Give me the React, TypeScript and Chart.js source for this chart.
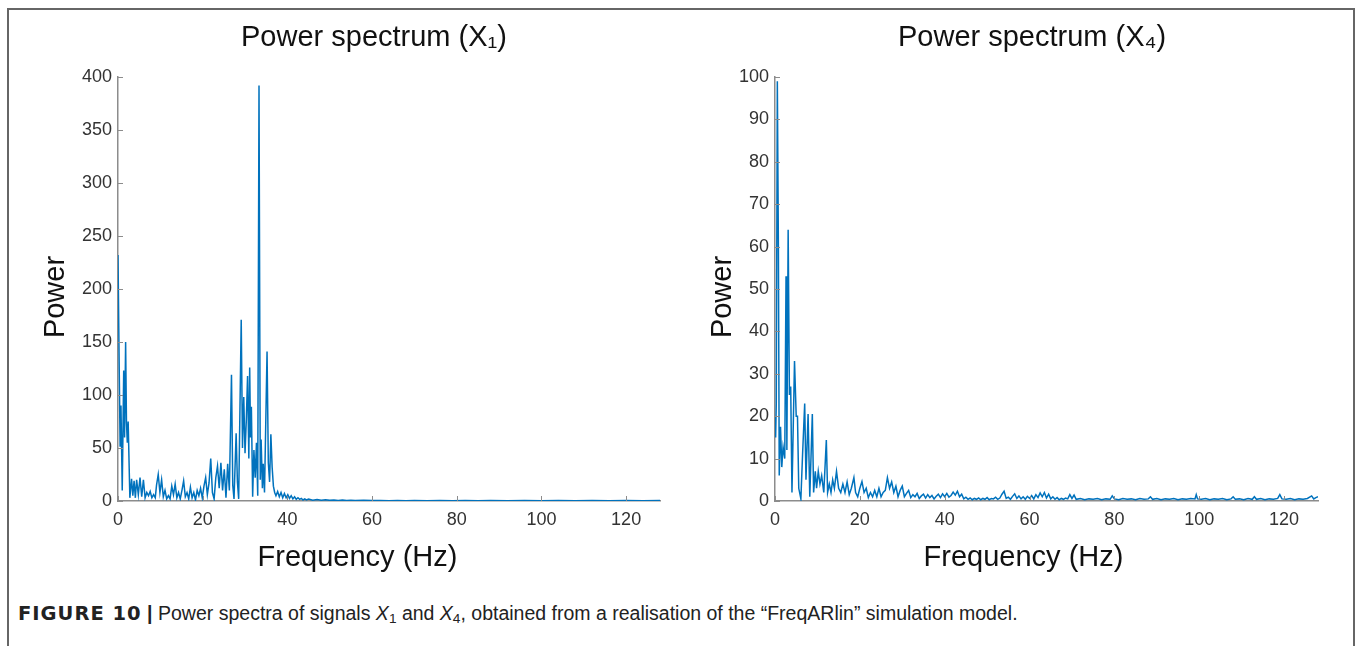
import React, { useEffect, useRef } from "react";
import { Chart, registerables } from "chart.js";

Chart.register(...registerables);

// ---------------- data ----------------
const FREQ_TICKS = [0, 20, 40, 60, 80, 100, 120];
const X1_POWER_TICKS = [0, 50, 100, 150, 200, 250, 300, 350, 400];
const X4_POWER_TICKS = [0, 10, 20, 30, 40, 50, 60, 70, 80, 90, 100];
const TITLE_X1 = "Power spectrum (X\u2081)";
const TITLE_X4 = "Power spectrum (X\u2084)";
const X_LABEL = "Frequency (Hz)";
const Y_LABEL = "Power";

// [frequency (Hz), power]
const X1_SPECTRUM: [number, number][] = [
  [0, 232], [0.3, 120], [0.5, 52], [0.7, 90], [1.0, 10], [1.35, 123], [1.55, 60], [1.8, 150], [2.0, 74], [2.2, 55],
  [2.4, 75], [2.8, 3], [3.2, 21], [3.5, 5], [3.8, 19], [4.1, 3], [4.4, 20], [4.8, 6], [5.2, 22], [5.6, 4],
  [6.0, 20], [6.4, 3], [6.8, 8], [7.2, 5], [7.6, 9], [8.0, 3], [8.4, 6], [8.8, 3], [9.1, 15], [9.5, 25],
  [9.9, 8], [10.3, 20], [10.7, 4], [11.1, 10], [11.5, 2], [11.9, 5], [12.3, 2], [12.7, 14], [13.1, 6], [13.5, 16],
  [13.9, 3], [14.3, 8], [14.7, 2], [15.1, 10], [15.5, 19], [15.9, 4], [16.3, 8], [16.7, 2], [17.1, 13], [17.5, 3],
  [17.9, 8], [18.3, 1], [18.7, 10], [19.1, 5], [19.5, 12], [19.9, 3], [20.3, 14], [20.7, 22], [21.1, 6], [21.5, 17],
  [21.9, 40], [22.3, 8], [22.7, 2], [23.1, 22], [23.5, 33], [23.9, 12], [24.3, 36], [24.7, 10], [25.1, 30], [25.5, 3],
  [25.9, 35], [26.3, 10], [26.8, 119], [27.1, 15], [27.4, 2], [27.9, 64], [28.2, 18], [28.5, 2], [29.1, 171], [29.4, 50],
  [29.7, 98], [30.0, 45], [30.3, 76], [30.6, 118], [30.9, 40], [31.1, 126], [31.3, 60], [31.5, 89], [31.8, 4], [32.1, 48],
  [32.4, 22], [32.7, 55], [33.0, 5], [33.3, 392], [33.6, 20], [33.8, 58], [34.1, 12], [34.3, 35], [34.6, 8], [35.2, 141],
  [35.5, 36], [35.8, 18], [36.1, 63], [36.4, 32], [36.7, 14], [37.0, 8], [37.3, 5], [37.7, 9], [38.1, 4], [38.5, 8],
  [38.9, 3], [39.3, 7], [39.7, 3], [40.1, 6], [40.5, 2.5], [40.9, 5], [41.3, 2], [41.7, 4], [42.1, 1.5], [42.5, 3],
  [42.9, 1.5], [43.3, 2.5], [43.7, 1], [44.1, 2], [44.5, 1], [45, 1.8], [46, 0.8], [47, 1.5], [48, 0.7], [49, 1.2],
  [50, 0.6], [51, 1], [52, 0.5], [53, 0.9], [54, 0.4], [55, 0.7], [56, 0.4], [58, 0.6], [60, 0.4], [62, 0.5],
  [64, 0.3], [66, 0.5], [68, 0.3], [70, 0.4], [73, 0.3], [76, 0.4], [79, 0.3], [82, 0.4], [85, 0.3], [88, 0.4],
  [92, 0.3], [96, 0.4], [100, 0.3], [104, 0.4], [108, 0.3], [112, 0.4], [116, 0.3], [120, 0.4], [124, 0.3], [128, 0.4],
];

// [frequency (Hz), power]
const X4_SPECTRUM: [number, number][] = [
  [0, 20], [0.15, 15], [0.3, 23], [0.55, 99], [0.8, 60], [1.0, 6], [1.3, 17.5], [1.6, 8], [1.9, 12.8], [2.3, 10],
  [2.6, 53], [2.8, 12], [3.1, 64], [3.4, 25], [3.7, 27], [4.0, 2], [4.6, 33], [5.0, 20], [5.3, 20], [5.6, 3],
  [6.1, 0.5], [6.5, 11], [7.0, 23], [7.3, 5], [7.8, 20.5], [8.2, 1], [8.8, 20.5], [9.1, 2], [9.5, 7], [9.8, 3],
  [10.2, 7], [10.6, 4], [11.0, 6], [11.5, 2], [12.1, 14.4], [12.4, 2], [12.8, 4], [13.2, 2], [13.6, 5], [14.0, 3],
  [14.5, 7], [15.0, 3], [15.5, 2], [16.0, 4], [16.5, 2], [17.0, 4.5], [17.5, 1.5], [18.0, 3], [18.6, 5.5], [19.0, 2],
  [19.5, 1], [20.0, 3], [20.5, 4.6], [21.0, 2], [21.5, 3], [22.0, 0.8], [22.5, 2], [23.0, 1], [23.5, 2.5], [24.0, 1],
  [24.5, 3], [25.0, 1], [25.5, 2], [26.0, 2.5], [26.5, 5.5], [27.0, 3], [27.5, 4.5], [28.0, 2], [28.5, 3.5], [29.0, 1],
  [29.5, 2.5], [30.0, 3.5], [30.5, 1], [31.0, 1.8], [31.5, 2.5], [32.0, 0.8], [32.5, 1.5], [33.0, 1], [33.5, 1.8], [34.0, 0.6],
  [34.5, 1.2], [35.0, 1.6], [35.5, 0.7], [36.0, 1.5], [36.5, 0.8], [37.0, 1.3], [37.5, 0.5], [38.0, 1.1], [38.5, 1.6], [39.0, 0.8],
  [39.5, 1.7], [40.0, 1], [40.5, 1.8], [41.0, 0.9], [41.5, 1.3], [42.0, 2.1], [42.5, 1.4], [43.0, 2.3], [43.5, 1], [44.0, 1.6],
  [44.5, 0.5], [45.0, 0.9], [45.5, 0.4], [46.0, 0.7], [46.5, 0.3], [47.0, 0.6], [47.5, 0.4], [48.0, 0.7], [48.5, 0.3], [49.0, 0.6],
  [49.5, 0.4], [50.0, 0.8], [50.5, 0.3], [51.0, 0.6], [51.5, 0.5], [52.0, 0.9], [52.5, 0.4], [53.0, 0.7], [53.5, 1.6], [54.0, 2.3],
  [54.5, 0.6], [55.0, 0.9], [55.5, 0.4], [56.0, 1.1], [56.5, 1.7], [57.0, 0.6], [57.5, 1.2], [58.0, 0.5], [58.5, 1], [59.0, 0.4],
  [59.5, 1.1], [60.0, 0.6], [60.5, 1.3], [61.0, 0.5], [61.5, 1.5], [62.0, 0.8], [62.5, 1.9], [63.0, 1], [63.5, 2], [64.0, 0.7],
  [64.5, 1.6], [65.0, 0.5], [65.5, 1], [66.0, 0.4], [66.5, 0.8], [67.0, 0.3], [67.5, 0.6], [68.0, 0.4], [68.5, 0.7], [69.0, 0.5],
  [69.5, 1.5], [70.0, 0.6], [70.5, 1.4], [71.0, 0.4], [72, 0.6], [73, 0.3], [74, 0.5], [75, 0.4], [76, 0.6], [77, 0.3],
  [78, 0.5], [79, 0.4], [79.5, 1.2], [80, 0.5], [81, 0.3], [82, 0.6], [83, 0.4], [84, 0.5], [85, 0.3], [86, 0.6],
  [87, 0.4], [88, 0.5], [88.5, 1], [89, 0.4], [90, 0.6], [91, 0.3], [92, 0.5], [93, 0.4], [94, 0.6], [95, 0.3],
  [96, 0.5], [97, 0.4], [98, 0.6], [99, 0.5], [99.3, 1.5], [99.6, 0.5], [100.5, 0.4], [101.5, 0.6], [102.5, 0.3], [103.5, 0.5],
  [104.5, 0.4], [105.5, 0.6], [106.5, 0.3], [107.5, 0.5], [108, 1], [108.5, 0.4], [109.5, 0.5], [110.5, 0.3], [111.5, 0.6], [112.5, 0.4],
  [113, 1], [113.5, 0.4], [114.5, 0.6], [115.5, 0.3], [116.5, 0.5], [117.5, 0.4], [118.5, 0.6], [119, 1.5], [119.5, 0.5], [120.5, 0.4],
  [121.5, 0.6], [122.5, 0.3], [123.5, 0.5], [124.5, 0.4], [125.5, 0.6], [126.5, 1.2], [127, 0.5], [127.5, 0.8], [128, 1],
];

// ---------------- styling ----------------
const FONT = '"Liberation Sans", Arial, Helvetica, sans-serif';
const BOLD_FONT = '"DejaVu Sans", "Liberation Sans", sans-serif';
const LINE_COLOR = "#0072BD";
const AXIS_COLOR = "#8c8c8c";
const TICK_LEN = 5;
const BIG = 29;

const inwardTicks = {
  id: "inwardTicks",
  afterDatasetsDraw(chart: any) {
    const { ctx, chartArea, scales } = chart;
    ctx.save();
    ctx.strokeStyle = AXIS_COLOR;
    ctx.lineWidth = 1;
    const xs = scales.x;
    xs.ticks.forEach((t: any) => {
      const px = Math.round(xs.getPixelForValue(t.value)) + 0.5;
      ctx.beginPath();
      ctx.moveTo(px, chartArea.bottom);
      ctx.lineTo(px, chartArea.bottom - TICK_LEN);
      ctx.stroke();
    });
    const ys = scales.y;
    ys.ticks.forEach((t: any) => {
      const py = Math.round(ys.getPixelForValue(t.value)) + 0.5;
      ctx.beginPath();
      ctx.moveTo(chartArea.left, py);
      ctx.lineTo(chartArea.left + TICK_LEN, py);
      ctx.stroke();
    });
    ctx.restore();
  },
};

// moves where a scale draws its own title, leaving ticks and axis in place
function titleShift(dx: number, dy: number) {
  return (s: any) => {
    if (s.__titleShifted) return;
    s.__titleShifted = true;
    const orig = s.drawTitle;
    s.drawTitle = function (...args: any[]) {
      const { left, right, top, bottom } = this;
      this.left = left + dx;
      this.right = right + dx;
      this.top = top + dy;
      this.bottom = bottom + dy;
      try {
        orig.apply(this, args);
      } finally {
        this.left = left;
        this.right = right;
        this.top = top;
        this.bottom = bottom;
      }
    };
  };
}

type PanelProps = {
  spectrum: [number, number][];
  yTicks: number[];
  title: string;
  left: number;
  width: number;
  yTitlePad: number;
  rightPad: number;
  xTitleShift: number;
};

function SpectrumPanel({ spectrum, yTicks, title, left, width, yTitlePad, rightPad, xTitleShift }: PanelProps) {
  const ref = useRef<HTMLCanvasElement | null>(null);
  useEffect(() => {
    if (!ref.current) return;
    const chart = new Chart(ref.current, {
      type: "line",
      data: {
        datasets: [
          {
            data: spectrum.map(([f, p]) => ({ x: f, y: p })),
            borderColor: LINE_COLOR,
            borderWidth: 1.5,
            pointRadius: 0,
            tension: 0,
            fill: false,
          },
        ],
      },
      options: {
        animation: false,
        responsive: false,
        devicePixelRatio: 1,
        events: [],
        layout: { padding: 0 },
        plugins: {
          legend: { display: false },
          tooltip: { enabled: false },
          title: {
            display: true,
            text: title,
            color: "#111",
            font: { family: FONT, size: BIG, weight: "normal", lineHeight: 1.2 },
            padding: { top: 10.6, bottom: 21.6 },
          },
        },
        scales: {
          x: {
            type: "linear",
            position: "bottom",
            min: 0,
            max: 128,
            afterFit: (s: any) => {
              s.height = 74;
            },
            afterUpdate: titleShift(xTitleShift, 0),
            afterBuildTicks: (s: any) => {
              s.ticks = FREQ_TICKS.map((v) => ({ value: v }));
            },
            grid: { display: true, drawOnChartArea: false, drawTicks: false },
            border: { display: true, color: AXIS_COLOR, width: 1.5 },
            ticks: { padding: 8.5, color: "#333", font: { family: FONT, size: 18 } },
            title: {
              display: true,
              text: X_LABEL,
              color: "#111",
              font: { family: FONT, size: BIG, weight: "normal", lineHeight: 1.2 },
              padding: { top: 0, bottom: 0 },
            },
          },
          y: {
            type: "linear",
            position: "left",
            min: yTicks[0],
            max: yTicks[yTicks.length - 1],
            afterFit: (s: any) => {
              s.width = 100;
            },
            afterUpdate: titleShift(0, 8),
            afterBuildTicks: (s: any) => {
              s.ticks = yTicks.map((v) => ({ value: v }));
            },
            grid: { display: true, drawOnChartArea: false, drawTicks: false },
            border: { display: true, color: AXIS_COLOR, width: 1.5 },
            ticks: { padding: 6, color: "#333", font: { family: FONT, size: 18 } },
            title: {
              display: true,
              text: Y_LABEL,
              color: "#111",
              font: { family: FONT, size: BIG, weight: "normal", lineHeight: 1.2 },
              padding: { top: yTitlePad, bottom: 0 },
            },
          },
          pad: {
            type: "linear",
            position: "right",
            display: true,
            afterFit: (s: any) => {
              s.width = rightPad;
            },
            grid: { display: false },
            border: { display: false },
            ticks: { display: false },
          },
        },
      } as any,
      plugins: [inwardTicks],
    });
    return () => chart.destroy();
  }, []);
  return (
    <canvas
      ref={ref}
      width={width}
      height={565}
      style={{ position: "absolute", left, top: 10, width, height: 565 }}
    />
  );
}

export default function App() {
  const sub: React.CSSProperties = { fontSize: "0.7em", verticalAlign: "-0.25em", lineHeight: 0 };
  return (
    <div
      style={{
        position: "absolute",
        left: 0,
        top: 0,
        width: 1358,
        height: 646,
        overflow: "hidden",
        background: "#fff",
        fontFamily: FONT,
      }}
    >
      <div
        style={{
          position: "absolute",
          left: 7,
          top: 8,
          width: 1348,
          height: 700,
          border: "2px solid #666",
          boxSizing: "border-box",
        }}
      />
      <SpectrumPanel spectrum={X1_SPECTRUM} yTicks={X1_POWER_TICKS} title={TITLE_X1} left={18} width={712} yTitlePad={20.6} rightPad={70} xTitleShift={-31.5} />
      <SpectrumPanel spectrum={X4_SPECTRUM} yTicks={X4_POWER_TICKS} title={TITLE_X4} left={675} width={714} yTitlePad={30.6} rightPad={71} xTitleShift={-23} />
      <div
        style={{
          position: "absolute",
          left: 18,
          top: 601,
          fontSize: 19.5,
          lineHeight: "24px",
          color: "#222",
          whiteSpace: "nowrap",
        }}
      >
        <b style={{ fontFamily: BOLD_FONT, letterSpacing: "1px" }}>FIGURE 10</b> <b>|</b> Power spectra of signals <i>X</i>
        <sub style={sub}>1</sub> and <i>X</i>
        <sub style={sub}>4</sub>, obtained from a realisation of the “FreqARlin” simulation model.
      </div>
    </div>
  );
}
